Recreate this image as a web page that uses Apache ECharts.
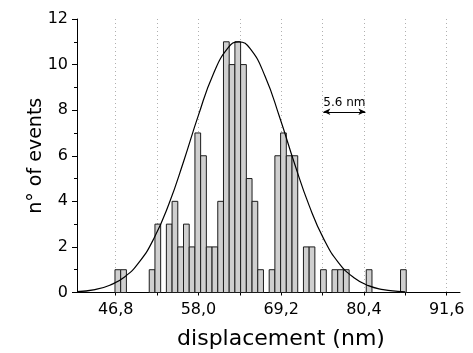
<!DOCTYPE html>
<html><head><meta charset="utf-8">
<script src="https://cdn.jsdelivr.net/npm/echarts@6/dist/echarts.min.js"></script>
<style>html,body{margin:0;padding:0;background:#fff}#c{width:473px;height:353px}</style>
</head><body><div id="c"></div>
<script>
// Histogram bins
const binStart = 46.70;
const binWidth = 0.773;
const counts = [1,1,0,0,0,0,1,3,0,3,4,2,3,2,7,6,2,2,4,11,10,11,10,5,4,1,0,1,6,7,6,6,0,2,2,0,1,0,1,1,1,0,0,0,1,0,0,0,0,0,1];
// Fitted curve
const curveX = [41.56,44,46,48,50,52,54,56,58,60,62,63.45,65,67,69,71,73,75,77,79,81,83,85,86];
const curveY = [0.04,0.13,0.32,0.68,1.34,2.39,3.88,5.76,7.78,9.58,10.73,11,10.70,9.50,7.68,5.66,3.80,2.32,1.29,0.66,0.30,0.13,0.05,0.03];
// Axis ticks
const xLabelValues = [46.8,58.0,69.2,80.4,91.6];
const xTickValues = [46.8,52.4,58.0,63.6,69.2,74.8,80.4,86.0,91.6];
// Scale annotation
const arrowFrom = [74.9, 7.93];
const arrowTo = [80.6, 7.93];
const arrowText = '5.6 nm';

const FF = 'DejaVu Sans, sans-serif';
const barData = [];
counts.forEach((c, i) => { if (c > 0) barData.push([binStart + i * binWidth, binStart + (i + 1) * binWidth, c]); });
const curveData = curveX.map((x, i) => [x, curveY[i]]);

const chart = echarts.init(document.getElementById('c'), null, {renderer: 'canvas'});
chart.setOption({
  animation: false,
  textStyle: {fontFamily: FF},
  grid: {left: 77, right: 13, top: 19, bottom: 60.5, outerBoundsMode: 'none', containLabel: false},
  xAxis: {
    type: 'value', min: 41.56, max: 93.4,
    axisLine: {onZero: false, lineStyle: {color: '#000', width: 1}},
    axisTick: {show: true, customValues: xTickValues, length: 3, lineStyle: {color: '#000'}},
    axisLabel: {customValues: xLabelValues, formatter: v => v.toFixed(1).replace('.', ','), fontSize: 16, color: '#000', margin: 9, fontFamily: FF},
    splitLine: {show: true, lineStyle: {type: [1, 3], color: '#b0b0b0', width: 1}},
    name: 'displacement (nm)', nameLocation: 'middle', nameGap: 36, nameMoveOverlap: false,
    nameTextStyle: {fontSize: 22, color: '#000', fontFamily: FF, padding: [0, 0, 0, 25]}
  },
  yAxis: {
    type: 'value', min: 0, max: 12, interval: 2,
    axisLine: {show: true, lineStyle: {color: '#000', width: 1}},
    axisTick: {show: true, length: 5, lineStyle: {color: '#000'}},
    minorTick: {show: true, splitNumber: 2, length: 3, lineStyle: {color: '#000'}},
    axisLabel: {fontSize: 16, color: '#000', margin: 9, fontFamily: FF},
    splitLine: {show: false},
    name: 'n° of events', nameLocation: 'middle', nameGap: 31, nameMoveOverlap: false,
    nameTextStyle: {fontSize: 19, color: '#000', fontFamily: FF}
  },
  series: [
    {
      type: 'custom',
      data: barData,
      encode: {x: [0, 1], y: 2},
      renderItem: function (params, api) {
        const s = api.coord([api.value(0), api.value(2)]);
        const e = api.coord([api.value(1), 0]);
        return {type: 'rect', shape: {x: s[0], y: s[1], width: e[0] - s[0], height: e[1] - s[1]},
          style: {fill: '#cfcfcf', stroke: '#1c1c1c', lineWidth: 1}};
      }
    },
    {
      type: 'line', data: curveData, smooth: true, showSymbol: false, symbol: 'none',
      lineStyle: {color: '#000', width: 1.2}, z: 3,
      markLine: {
        silent: true, symbol: ['arrow', 'arrow'], symbolSize: [5, 7],
        lineStyle: {color: '#000', width: 1, type: 'solid'},
        label: {show: true, position: 'insideMiddleTop', formatter: arrowText, fontSize: 12, color: '#000', distance: 3, fontFamily: FF},
        data: [[{coord: arrowFrom}, {coord: arrowTo}]]
      }
    }
  ]
});
</script></body></html>
